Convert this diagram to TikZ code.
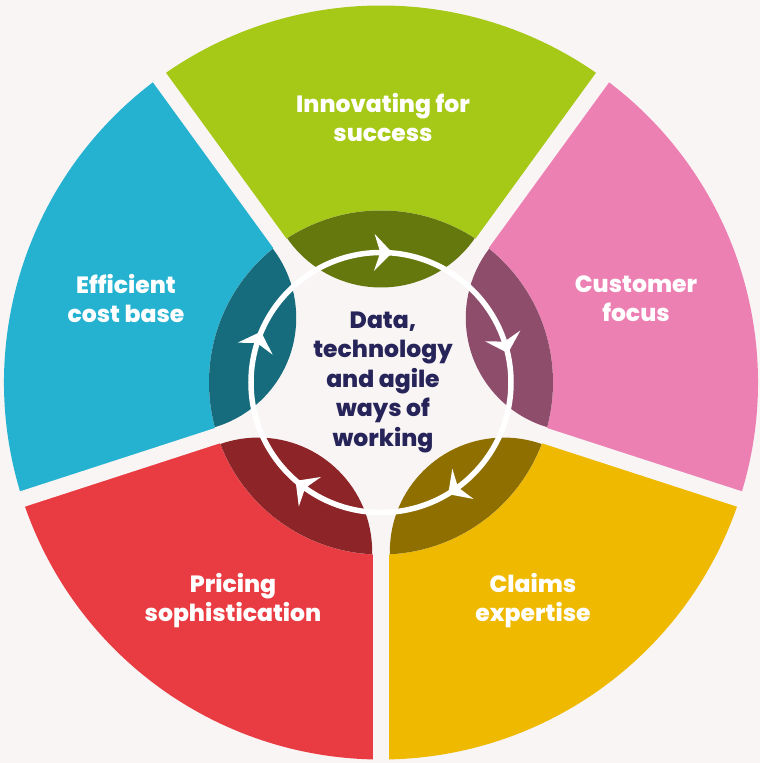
\documentclass[tikz,border=0pt]{standalone}
\usepackage{fontspec}
\setmainfont{Poppins}[BoldFont={Poppins ExtraBold}]

\definecolor{bgpaper}{HTML}{F9F5F5}
\definecolor{segGreen}{HTML}{A6C816}
\definecolor{segPink}{HTML}{EC80B2}
\definecolor{segYellow}{HTML}{EFB900}
\definecolor{segRed}{HTML}{E93C42}
\definecolor{segBlue}{HTML}{25B2D1}
\definecolor{hubNavy}{HTML}{27245A}

\tikzset{
  segtext/.style={text=white, align=center, inner sep=0pt,
    font=\bfseries\fontsize{23.5}{29}\selectfont},
  hubtext/.style={text=hubNavy, align=center, inner sep=0pt,
    font=\bfseries\fontsize{23.5}{29.5}\selectfont},
  gapline/.style={bgpaper, line width=16pt},
}

\begin{document}
\begin{tikzpicture}[x=1pt,y=1pt]
    \fill[bgpaper] (-381,-380.5) rectangle (379,382.5);
    \useasboundingbox (-381,-380.5) rectangle (379,382.5);
    % outer segments
    \foreach \mid/\col in {90/segGreen, 18/segPink, -54/segYellow, -126/segRed, 162/segBlue}
        \fill[\col] (0,0) -- (\mid+36:377) arc[start angle=\mid+36, end angle=\mid-36, radius=377] -- cycle;
    % gaps
    \foreach \cut in {54,126,198,270,342}
        \draw[gapline] (0,0) -- (\cut:390);
    % hub with darker inner parts
    \fill[bgpaper] (0,0) circle[radius=172];
    \foreach \mid/\col in {90/segGreen, 18/segPink, -54/segYellow, -126/segRed, 162/segBlue} {
        \begin{scope}
            \clip (0,0) circle[radius=172];
            \fill[\col!60!black] (\mid:209) circle[radius=114];
        \end{scope}
    }
    % cycle with clockwise heads
    \draw[white, line width=5.5pt] (0,0) circle[radius=130];
    \foreach \mid in {90,18,-54,-126,162}
        \fill[white, shift={(\mid-1:130)}, rotate=\mid-91] (9,0) -- (-9,18.5) -- (-3,0) -- (-9,-18.5) -- cycle;
    % texts
    \node[segtext] (innovate) at (2,264.5) {Innovating for\\success};
    \node[segtext] (customer) at (255,83.5) {Customer\\focus};
    \node[segtext] (claims) at (152,-218.5) {Claims\\expertise};
    \node[segtext] (pricing) at (-148,-218.5) {Pricing\\sophistication};
    \node[segtext] (costbase) at (-255,83.5) {Efficient\\cost base};
    \node[hubtext] (hub) at (2,0.5) {Data,\\technology\\and agile\\ways of\\working};
\end{tikzpicture}
\end{document}
